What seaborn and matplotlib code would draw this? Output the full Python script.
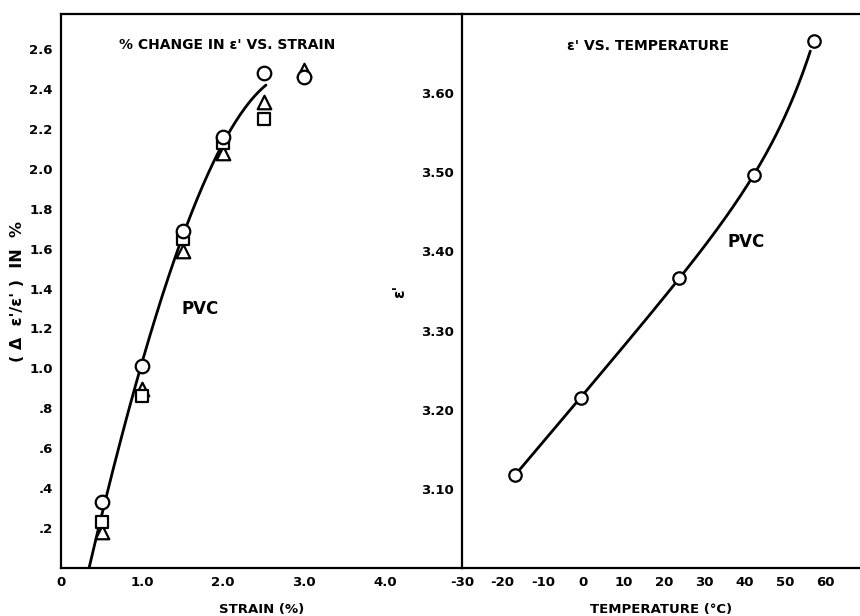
import numpy as np
import pandas as pd
import matplotlib
matplotlib.use("Agg")
import matplotlib.pyplot as plt
import seaborn as sns

# ---- data: left panel (% change in e' vs strain) ----
strain = [0.5, 1.0, 1.5, 2.0, 2.5, 3.0]
circ_vals = [0.33, 1.01, 1.69, 2.16, 2.48, 2.46]
tri_vals = [0.18, 0.895, 1.59, 2.08, 2.335, 2.495]
sq_vals = [0.23, 0.86, 1.65, 2.13, 2.25]
# fitted curve anchors
curve_strain = [0.36, 0.5, 1.0, 1.5, 2.0, 2.53]
curve_pct = [0.0, 0.30, 1.00, 1.68, 2.12, 2.42]

# ---- data: right panel (e' vs temperature) ----
temp = [-16.8, -0.6, 23.8, 42.3, 57.0]
eps = [3.118, 3.215, 3.367, 3.497, 3.666]

left_xticks = [0, 1, 2, 3, 4]
left_xticklabels = ["0", "1.0", "2.0", "3.0", "4.0"]
left_yticks = [0.2, 0.4, 0.6, 0.8, 1.0, 1.2, 1.4, 1.6, 1.8, 2.0, 2.2, 2.4, 2.6]
left_yticklabels = [".2", ".4", ".6", ".8", "1.0", "1.2", "1.4", "1.6", "1.8", "2.0", "2.2", "2.4", "2.6"]
right_xticks = [-30, -20, -10, 0, 10, 20, 30, 40, 50, 60]
right_xticklabels = ["-30", "-20", "-10", "0", "10", "20", "30", "40", "50", "60"]
right_yticks = [3.10, 3.20, 3.30, 3.40, 3.50, 3.60]
right_yticklabels = ["3.10", "3.20", "3.30", "3.40", "3.50", "3.60"]

sns.set_theme(style="white")
plt.rcParams['font.family'] = ['DejaVu Sans']
plt.rcParams['font.weight'] = 'bold'
for k in ("text.color", "axes.labelcolor", "xtick.color", "ytick.color"):
    plt.rcParams[k] = "black"

fig = plt.figure(figsize=(8.6, 6.16), dpi=100)
axL = fig.add_axes([61/860, 48/616, 401/860, 554/616])
axR = fig.add_axes([462/860, 48/616, 398/860, 554/616])

mk = dict(color="white", edgecolor="black", linewidth=1.6, s=95, zorder=5, legend=False)

# left curve: smooth cubic fit through anchors
cf = np.polyfit(curve_strain, curve_pct, 3)
xs = np.linspace(curve_strain[0] - 0.02, curve_strain[-1], 200)
dfc = pd.DataFrame({"x": xs, "y": np.polyval(cf, xs)})
sns.lineplot(data=dfc, x="x", y="y", ax=axL, color="black", lw=2.0, sort=False)

sns.scatterplot(x=strain, y=tri_vals, marker="^", ax=axL, **mk)
sns.scatterplot(x=strain[:len(sq_vals)], y=sq_vals, marker="s", ax=axL, **{**mk, "s": 75})
sns.scatterplot(x=strain, y=circ_vals, marker="o", ax=axL, **mk)

axL.set_xlim(0, 4.95)
axL.set_ylim(0, 2.775)
axL.set_xticks(left_xticks)
axL.set_xticklabels(left_xticklabels)
axL.set_yticks(left_yticks)
axL.set_yticklabels(left_yticklabels)
axL.set_xlabel("STRAIN (%)", fontsize=9.5, fontweight="bold", labelpad=10)
axL.set_ylabel("( Δ  ε'/ε' )  IN  %", fontsize=11.5, fontweight="bold", labelpad=3)
axL.text(0.72, 2.6, "% CHANGE IN ε' VS. STRAIN", fontsize=10, fontweight="bold")
axL.text(1.49, 1.27, "PVC", fontsize=12, fontweight="bold")

# right curve: least-squares fit of a + b*T + c*exp(T/tau)
tau = 10.0
tarr = np.array(temp)
A = np.column_stack([np.ones_like(tarr), tarr, np.exp(tarr / tau)])
coef, *_ = np.linalg.lstsq(A, np.array(eps), rcond=None)
ts = np.linspace(temp[0], temp[-1] - 0.8, 200)
ys = coef[0] + coef[1] * ts + coef[2] * np.exp(ts / tau)
dfr = pd.DataFrame({"x": ts, "y": ys})
sns.lineplot(data=dfr, x="x", y="y", ax=axR, color="black", lw=2.0, sort=False)
sns.scatterplot(x=temp, y=eps, marker="o", ax=axR, **{**mk, "s": 80})

axR.set_xlim(-30, 68.5)
axR.set_ylim(3.0, 3.70)
axR.set_xticks(right_xticks)
axR.set_xticklabels(right_xticklabels)
axR.set_yticks(right_yticks)
axR.set_yticklabels(right_yticklabels)
axR.set_xlabel("TEMPERATURE (°C)", fontsize=9.5, fontweight="bold", labelpad=10)
axR.set_ylabel("ε'", fontsize=11, fontweight="bold", labelpad=10)
axR.text(-4, 3.655, "ε' VS. TEMPERATURE", fontsize=10, fontweight="bold")
axR.text(35.6, 3.405, "PVC", fontsize=12, fontweight="bold")

for ax in (axL, axR):
    ax.tick_params(direction="in", length=7, width=1.5, labelsize=9.5, pad=6)
    for lab in ax.get_xticklabels() + ax.get_yticklabels():
        lab.set_fontweight("bold")
    for side in ("left", "bottom", "top"):
        ax.spines[side].set_linewidth(1.6)
        ax.spines[side].set_color("black")
    ax.spines["right"].set_visible(False)
    ax.set_facecolor("none")

fig.savefig("out.png", dpi=100, facecolor="white")
